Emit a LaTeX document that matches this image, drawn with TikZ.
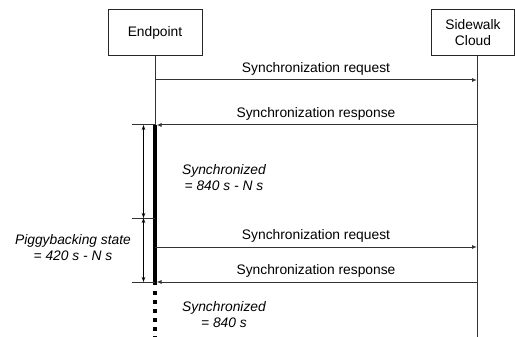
\documentclass[tikz,border=0pt]{standalone}
\usepackage{fontspec}
\setmainfont{Liberation Sans}
\usetikzlibrary{arrows.meta}
\begin{document}
\begin{tikzpicture}[x=1pt,y=-1pt,
  every node/.style={font=\fontsize{13.8}{16}\selectfont},
  actor/.style={draw=black!85, line width=1pt, minimum height=46pt, inner sep=2pt, align=center},
  life/.style={draw=black!80, line width=1pt},
  msg/.style={draw=black!80, line width=1pt, -{Latex[length=5pt,width=4pt]}},
  lbl/.style={midway, anchor=base, yshift=7.5pt},
  tick/.style={draw=black!80, line width=1pt},
  span/.style={draw=black, line width=0.8pt, {Stealth[length=5pt,width=3.5pt]}-{Stealth[length=5pt,width=3.5pt]}},
  note/.style={align=center, font=\fontsize{13.8}{16}\selectfont\itshape},
  bar/.style={draw=black, line width=4pt},
  dotbar/.style={draw=black, line width=4pt, dash pattern=on 4pt off 5pt}
]
\useasboundingbox (0,0) rectangle (515,337);

\node[actor, minimum width=94pt] (ep) at (155,33) {Endpoint};
\node[actor, minimum width=83pt] (sc) at (473,33) {Sidewalk\\Cloud};

% lifeline coordinates
\coordinate (sctop) at (477,56);
\coordinate (scbot) at (477,340);
\coordinate (e1) at (155,80);   \coordinate (c1) at (477,80);
\coordinate (e2) at (155,125);  \coordinate (c2) at (477,125);
\coordinate (e3) at (155,247);  \coordinate (c3) at (477,247);
\coordinate (e4) at (155,282);  \coordinate (c4) at (477,282);
\coordinate (ebar1) at (154.5,125);
\coordinate (ebar2) at (154.5,285);
\coordinate (edot1) at (154.5,291);
\coordinate (edot2) at (154.5,345);
\coordinate (t1) at (132,125);
\coordinate (t2) at (132,218);  \coordinate (t2r) at (155,218);
\coordinate (t3) at (132,282);
\coordinate (b1) at (143.5,125);
\coordinate (b2) at (143.5,218);
\coordinate (b3) at (143.5,282);

% lifelines
\draw[life] (ep.south) -- (e2);
\draw[life] (sctop) -- (scbot);
\draw[bar] (ebar1) -- (ebar2);
\draw[dotbar] (edot1) -- (edot2);

% ticks
\draw[tick] (t1) -- (e2);
\draw[tick] (t2) -- (t2r);
\draw[tick] (t3) -- (e4);

% span arrows
\draw[span] (b1) -- (b2);
\draw[span] (b2) -- (b3);

% messages
\draw[msg] (e1) -- (c1) node[lbl] {Synchronization request};
\draw[msg, shorten >=1.5pt] (c2) -- (e2) node[lbl] {Synchronization response};
\draw[msg] (e3) -- (c3) node[lbl] {Synchronization request};
\draw[msg, shorten >=1.5pt] (c4) -- (e4) node[lbl] {Synchronization response};

% notes
\node[note] (n1) at (224,178) {Synchronized\\ = 840 s - N s};
\node[note] (n2) at (73,248) {Piggybacking state\\ = 420 s - N s};
\node[note] (n3) at (224,315) {Synchronized\\ = 840 s};
\end{tikzpicture}
\end{document}
